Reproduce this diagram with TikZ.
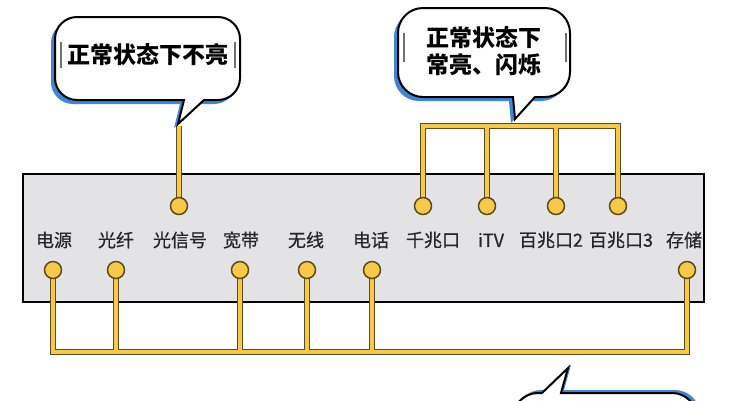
\documentclass[tikz,border=0pt]{standalone}
\usepackage{fontspec}
\newfontfamily\cjk{Noto Sans CJK SC}
\newfontfamily\cjkm[FakeBold=0.7]{Noto Sans CJK SC}
\definecolor{wireout}{HTML}{5E4C1E}
\definecolor{wirein}{HTML}{F7C948}
\definecolor{panelc}{HTML}{E3E3E6}
\definecolor{shadowblue}{HTML}{3C86D6}
\definecolor{labelc}{HTML}{262626}
\definecolor{barc}{HTML}{707070}
\pgfdeclarelayer{panellayer}
\pgfdeclarelayer{wirelayer}
\pgfsetlayers{panellayer,wirelayer,main}
\newcommand{\bubbleone}[1]{\path[#1] (204,100) -- (218,100) arc (90:0:22) -- (240,39) arc (0:-90:22) -- (77,17) arc (-90:-180:22) -- (55,78) arc (180:90:22) -- (184,100) -- (178,124) -- cycle;}
\newcommand{\bubbletwo}[1]{\path[#1] (535,97) -- (545,97) arc (90:0:25) -- (570,33) arc (0:-90:25) -- (423,8) arc (-90:-180:25) -- (398,72) arc (180:90:25) -- (513,97) -- (515,119) -- cycle;}
\newcommand{\bubblethree}[1]{\path[#1] (561,393) -- (672,393) arc (-90:0:25) -- (697,470) -- (513,470) -- (513,418) arc (180:270:25) -- (542,393) -- (568,368) -- cycle;}
\begin{document}
\begin{tikzpicture}[x=1pt,y=-1pt,
  port/.style={circle,fill=wirein,draw=wireout,line width=1.5pt,minimum size=17pt,inner sep=0pt},
  lbl/.style={font=\cjkm\fontsize{18}{20}\selectfont,text=labelc,inner sep=0pt},
  wireo/.style={draw=wireout,line width=6.5pt},
  wirei/.style={draw=wirein,line width=4pt},
  calltext/.style={font=\cjk\bfseries\fontsize{23}{27}\selectfont,align=center,text=black,inner sep=0pt},
  cursorbar/.style={draw=barc,line width=1.2pt}]
\useasboundingbox (0,0) rectangle (739,400);
\begin{pgfonlayer}{panellayer}
\fill[white] (0,0) rectangle (739,400);
\draw[fill=panelc,line width=2pt] (23,174) rectangle (704,302);
\end{pgfonlayer}
\clip (0,0) rectangle (739,400);
% labels
\node[lbl] (ldy) at (54,240) {电源};
\node[lbl] (lgx) at (116,240) {光纤};
\node[lbl] (lgxh) at (180,240) {光信号};
\node[lbl] (lkd) at (241,240) {宽带};
\node[lbl] (lwx) at (306,240) {无线};
\node[lbl] (ldh) at (371,240) {电话};
\node[lbl] (lqz) at (433,240) {千兆口};
\node[lbl] (litv) at (491,240) {iTV};
\node[lbl] (lbz2) at (551,240) {百兆口2};
\node[lbl] (lbz3) at (621,240) {百兆口3};
\node[lbl] (lcc) at (684,240) {存储};
% ports
\node[port] (gxh) at (179,206) {};
\node[port] (qz) at (423,206) {};
\node[port] (itv) at (487,206) {};
\node[port] (bz2) at (556,206) {};
\node[port] (bz3) at (618,206) {};
\node[port] (dy) at (53,270) {};
\node[port] (gx) at (116,270) {};
\node[port] (kd) at (240,270) {};
\node[port] (wx) at (307,270) {};
\node[port] (dh) at (372,270) {};
\node[port] (cc) at (687,270) {};
\coordinate (gxtop) at (179,126);
\coordinate (tb) at (0,126);
\coordinate (bb) at (0,352);
% wires
\begin{pgfonlayer}{wirelayer}
\foreach \ws in {wireo,wirei}{
  \draw[\ws] (gxh.center) -- (gxtop);
  \draw[\ws] (qz.center) -- (qz |- tb) -- (bz3 |- tb) -- (bz3.center);
  \draw[\ws] (itv.center) -- (itv |- tb);
  \draw[\ws] (bz2.center) -- (bz2 |- tb);
  \draw[\ws] (dy.center) -- (dy |- bb) -- (cc |- bb) -- (cc.center);
  \draw[\ws] (gx.center) -- (gx |- bb);
  \draw[\ws] (kd.center) -- (kd |- bb);
  \draw[\ws] (wx.center) -- (wx |- bb);
  \draw[\ws] (dh.center) -- (dh |- bb);
}
\end{pgfonlayer}
% callouts
\bubbleone{fill=shadowblue,xshift=-4pt,yshift=-4pt}
\bubbleone{fill=white,draw=black,line width=2pt}
\node[calltext] (t1) at (148,55) {正常状态下不亮};
\draw[cursorbar] (61,42) -- (61,68);
\draw[cursorbar] (235,42) -- (235,68);
\bubbletwo{fill=shadowblue,xshift=-4pt,yshift=-4pt}
\bubbletwo{fill=white,draw=black,line width=2pt}
\node[calltext] (t2) at (484,51) {正常状态下\\常亮、闪烁};
\draw[cursorbar] (404,33) -- (404,62);
\draw[cursorbar] (566,33) -- (566,62);
\bubblethree{fill=shadowblue,xshift=3pt,yshift=3pt}
\bubblethree{fill=white,draw=black,line width=2pt}
\end{tikzpicture}
\end{document}
